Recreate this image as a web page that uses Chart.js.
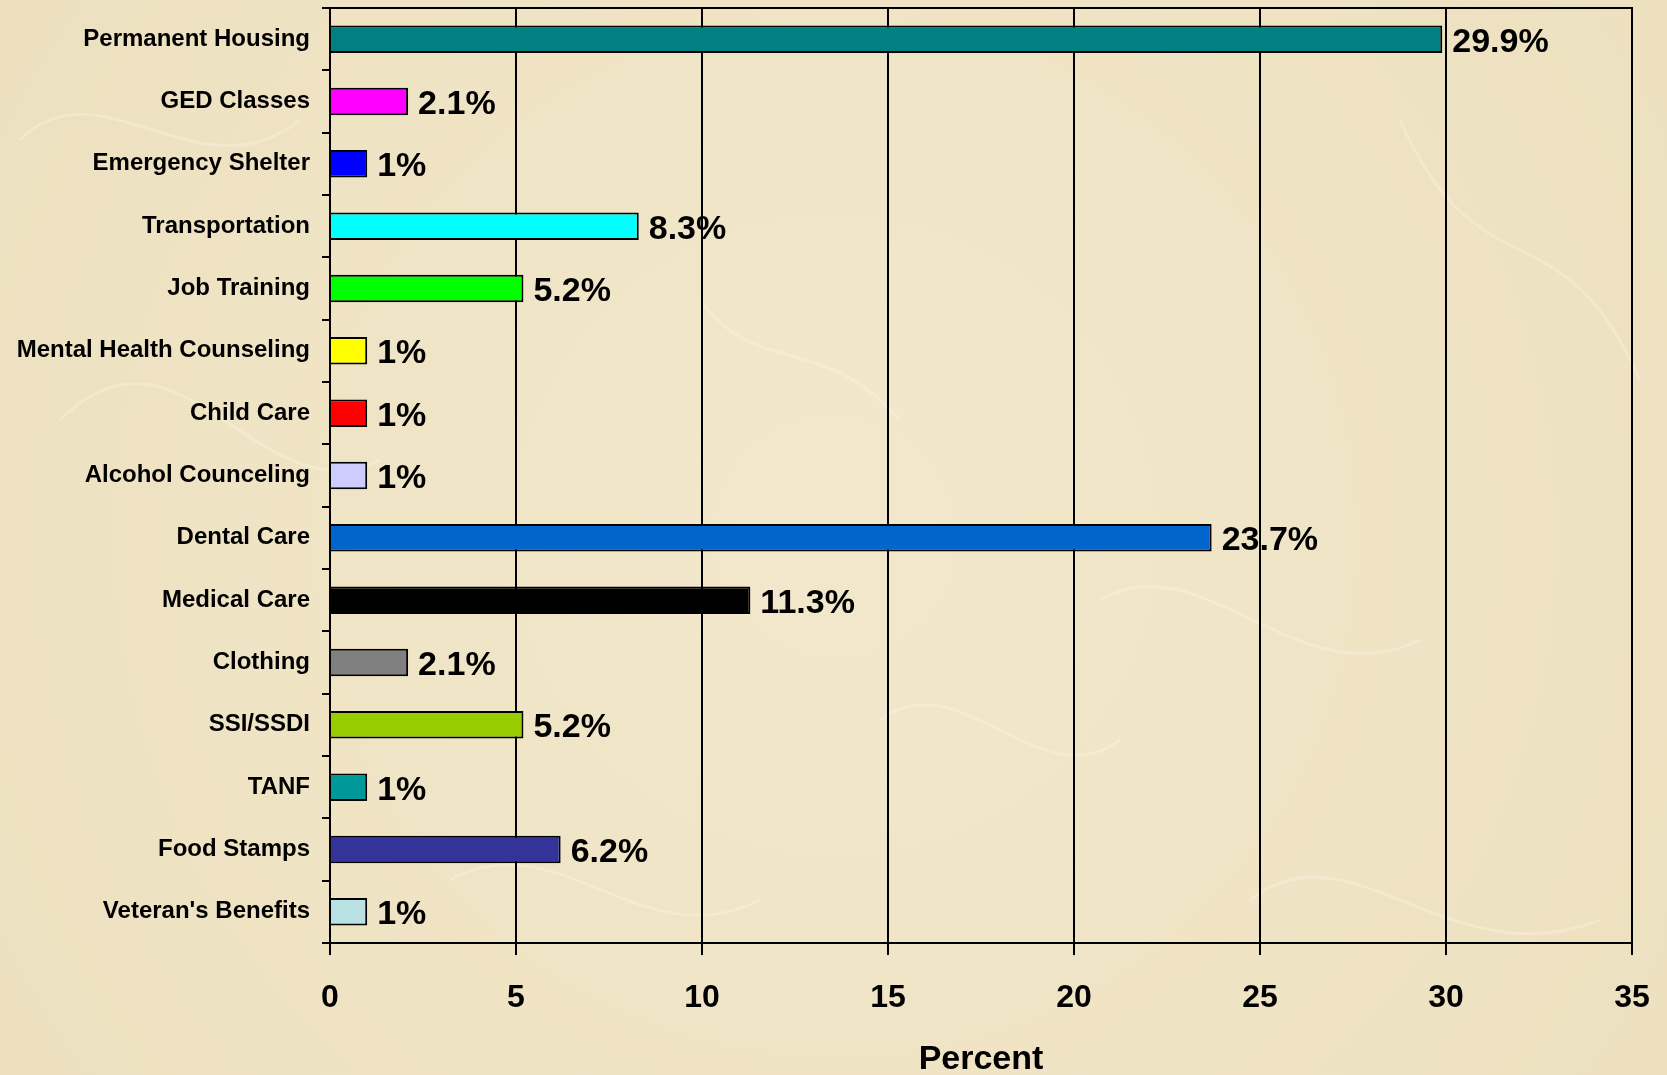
<!DOCTYPE html>
<html>
<head>
<meta charset="utf-8">
<script src="https://cdn.jsdelivr.net/npm/chart.js@4"></script>
<style>
  html, body { margin: 0; padding: 0; background: #efe3c3; }
  canvas { display: block; }
</style>
</head>
<body>
<canvas id="grafica" width="1667" height="1075"></canvas>
<script>
// Categorías y valores
const servicios = [
  'Permanent Housing', 'GED Classes', 'Emergency Shelter', 'Transportation',
  'Job Training', 'Mental Health Counseling', 'Child Care', 'Alcohol Counceling',
  'Dental Care', 'Medical Care', 'Clothing', 'SSI/SSDI', 'TANF',
  'Food Stamps', "Veteran's Benefits"
];
const porcentajes = [29.9, 2.1, 1, 8.3, 5.2, 1, 1, 1, 23.7, 11.3, 2.1, 5.2, 1, 6.2, 1];
const etiquetas = ['29.9%', '2.1%', '1%', '8.3%', '5.2%', '1%', '1%', '1%',
  '23.7%', '11.3%', '2.1%', '5.2%', '1%', '6.2%', '1%'];
const colores = [
  '#008080', '#ff00ff', '#0000ff', '#00ffff', '#00ff00', '#ffff00', '#ff0000',
  '#ccccff', '#0066cc', '#000000', '#808080', '#99cc00', '#009999', '#333399', '#b9e1e4'
];
const ticksX = [0, 5, 10, 15, 20, 25, 30, 35];

const fuente = "'Liberation Sans', Arial, sans-serif";

// Fibras claras del papel (solo decoración)
const fibras = [
  [60, 420, 180, 300, 260, 520, 380, 460],
  [700, 300, 760, 380, 820, 330, 900, 420],
  [1400, 120, 1480, 300, 1560, 200, 1640, 380],
  [1100, 600, 1200, 540, 1300, 700, 1420, 640],
  [450, 880, 560, 820, 640, 960, 760, 900],
  [1250, 900, 1350, 820, 1450, 980, 1600, 920],
  [20, 140, 100, 60, 200, 200, 300, 120],
  [880, 720, 960, 660, 1040, 800, 1120, 740]
];

// Fondo tipo papel
const fondo = {
  id: 'fondo',
  beforeDraw(chart) {
    const { ctx, width, height } = chart;
    ctx.save();
    const g = ctx.createRadialGradient(width / 2, height / 2, 100, width / 2, height / 2, width * 0.7);
    g.addColorStop(0, '#f2e7ca');
    g.addColorStop(1, '#ebdfbd');
    ctx.fillStyle = g;
    ctx.fillRect(0, 0, width, height);
    ctx.strokeStyle = 'rgba(255, 250, 235, 0.3)';
    ctx.lineWidth = 3;
    fibras.forEach(f => {
      ctx.beginPath();
      ctx.moveTo(f[0], f[1]);
      ctx.bezierCurveTo(f[2], f[3], f[4], f[5], f[6], f[7]);
      ctx.stroke();
    });
    ctx.restore();
  }
};

// Marco del área de la gráfica y etiquetas de valores
const marco = {
  id: 'marco',
  afterDatasetsDraw(chart) {
    const { ctx, chartArea: a } = chart;
    ctx.save();
    ctx.strokeStyle = '#000';
    ctx.lineWidth = 2;
    ctx.strokeRect(a.left, a.top, a.right - a.left, a.bottom - a.top);

    ctx.fillStyle = '#000';
    ctx.font = 'bold 34px ' + fuente;
    ctx.textAlign = 'left';
    ctx.textBaseline = 'middle';
    chart.getDatasetMeta(0).data.forEach((bar, i) => {
      ctx.fillText(etiquetas[i], bar.x + 10, bar.y + 3);
    });
    ctx.restore();
  }
};

const data = {
  labels: servicios,
  datasets: [{
    data: porcentajes,
    backgroundColor: colores,
    borderColor: '#000',
    borderWidth: 2,
    barPercentage: 0.44,
    categoryPercentage: 1
  }]
};

const config = {
  type: 'bar',
  data: data,
  plugins: [fondo, marco],
  options: {
    indexAxis: 'y',
    responsive: false,
    animation: false,
    layout: { padding: { top: 8, right: 35, left: 0, bottom: 0 } },
    plugins: {
      legend: { display: false },
      tooltip: { enabled: false }
    },
    scales: {
      x: {
        min: 0,
        max: 35,
        afterBuildTicks(scale) {
          scale.ticks = ticksX.map(v => ({ value: v }));
        },
        afterFit(scale) {
          scale.height = 132;
          scale.paddingLeft = 0;
          scale.paddingRight = 0;
        },
        grid: { color: '#000', lineWidth: 2, tickLength: 12 },
        border: { color: '#000', width: 2 },
        ticks: {
          color: '#000',
          padding: 24,
          maxRotation: 0,
          font: { family: fuente, size: 32, weight: 'bold' }
        },
        title: {
          display: true,
          text: 'Percent',
          color: '#000',
          padding: { top: 0, bottom: -5 },
          font: { family: fuente, size: 34, weight: 'bold' }
        }
      },
      y: {
        afterFit(scale) {
          scale.width = 330;
          scale.paddingTop = 0;
          scale.paddingBottom = 0;
        },
        grid: { drawOnChartArea: false, color: '#000', lineWidth: 2, tickLength: 8, offset: true },
        border: { color: '#000', width: 2 },
        ticks: {
          color: '#000',
          padding: 12,
          autoSkip: false,
          font: { family: fuente, size: 24, weight: 'bold' }
        }
      }
    }
  }
};

const ctx = document.getElementById('grafica');
const graficaServicios = new Chart(ctx, config);
</script>
</body>
</html>
